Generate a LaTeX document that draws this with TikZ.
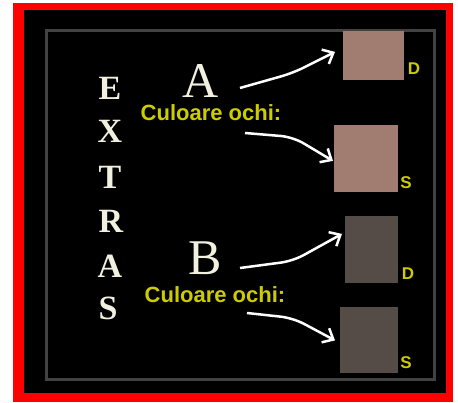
\documentclass[tikz,border=0pt]{standalone}
\usepackage{fontspec}
\setmainfont{Liberation Serif}
\newfontfamily\labelfont{Liberation Sans}
\usepackage{xcolor}
\usetikzlibrary{arrows.meta}
\definecolor{FrameRed}{RGB}{255,0,0}
\definecolor{FrameGrey}{RGB}{66,66,66}
\definecolor{EyeLight}{RGB}{160,125,112}
\definecolor{EyeDark}{RGB}{86,76,71}
\definecolor{LabelYellow}{RGB}{204,204,0}
\definecolor{LetterCream}{RGB}{242,240,222}

\begin{document}
\begin{tikzpicture}[x=1pt, y=-1pt, thick,
	letter/.style={text=LetterCream, font=\bfseries\fontsize{34}{34}\selectfont, inner sep=0pt},
	person/.style={text=LetterCream, font=\fontsize{50}{50}\selectfont, inner sep=0pt},
	eyetext/.style={text=LabelYellow, font=\labelfont\bfseries\fontsize{22}{22}\selectfont, inner sep=0pt},
	side/.style={text=LabelYellow, font=\labelfont\bfseries\fontsize{17}{17}\selectfont, inner sep=0pt},
	swatch/.style={inner sep=0pt, anchor=north west},
	pointer/.style={draw=white, line width=2.5pt, rounded corners=12pt, -{Straight Barb[length=9pt, width=16pt]}}]
		\useasboundingbox (0,0) rectangle (458,403);
		% frame
		\fill[FrameRed] (13,3) rectangle (453,402);
		\fill[black] (24,10) rectangle (446,393);
		\draw[FrameGrey, line width=3pt] (46,31) rectangle (434,380);
		% word down the left side
		\node[letter] (e1) at (110,88) {E};
		\node[letter] (e2) at (110,131) {X};
		\node[letter] (e3) at (110,177) {T};
		\node[letter] (e4) at (111,221) {R};
		\node[letter] (e5) at (110,266) {A};
		\node[letter] (e6) at (108,308) {S};
		% persons
		\node[person] (pA) at (201,81) {A};
		\node[eyetext] (tA) at (211,113) {Culoare ochi:};
		\node[person] (pB) at (205,258) {B};
		\node[eyetext] (tB) at (215,295) {Culoare ochi:};
		% eye colours
		\node[swatch, fill=EyeLight, minimum width=61pt, minimum height=49pt] (sqAD) at (343,31) {};
		\node[swatch, fill=EyeLight, minimum width=64pt, minimum height=67pt] (sqAS) at (334,125) {};
		\node[swatch, fill=EyeDark, minimum width=53pt, minimum height=67pt] (sqBD) at (345,216) {};
		\node[swatch, fill=EyeDark, minimum width=58pt, minimum height=66pt] (sqBS) at (340,307) {};
		\node[side] (lAD) at (414,69) {D};
		\node[side] (lAS) at (406,183) {S};
		\node[side] (lBD) at (408,274) {D};
		\node[side] (lBS) at (406,363) {S};
		% arrows
		\coordinate (aA1) at (240,88);
		\coordinate (bA1) at (293,73);
		\coordinate (aA2) at (245,133);
		\coordinate (bA2) at (293,137);
		\coordinate (aB1) at (240,268);
		\coordinate (bB1) at (293,261);
		\coordinate (aB2) at (247,313);
		\coordinate (bB2) at (293,318);
		\draw[pointer] (aA1) -- (bA1) -- ([xshift=-8pt,yshift=4pt]sqAD.west);
		\draw[pointer] (aA2) -- (bA2) -- ([xshift=-1pt,yshift=-2pt]sqAS.west);
		\draw[pointer] (aB1) -- (bB1) -- ([xshift=-3pt,yshift=16pt]sqBD.west);
		\draw[pointer] (aB2) -- (bB2) -- ([xshift=-5pt]sqBS.west);
	\end{tikzpicture}
\end{document}
